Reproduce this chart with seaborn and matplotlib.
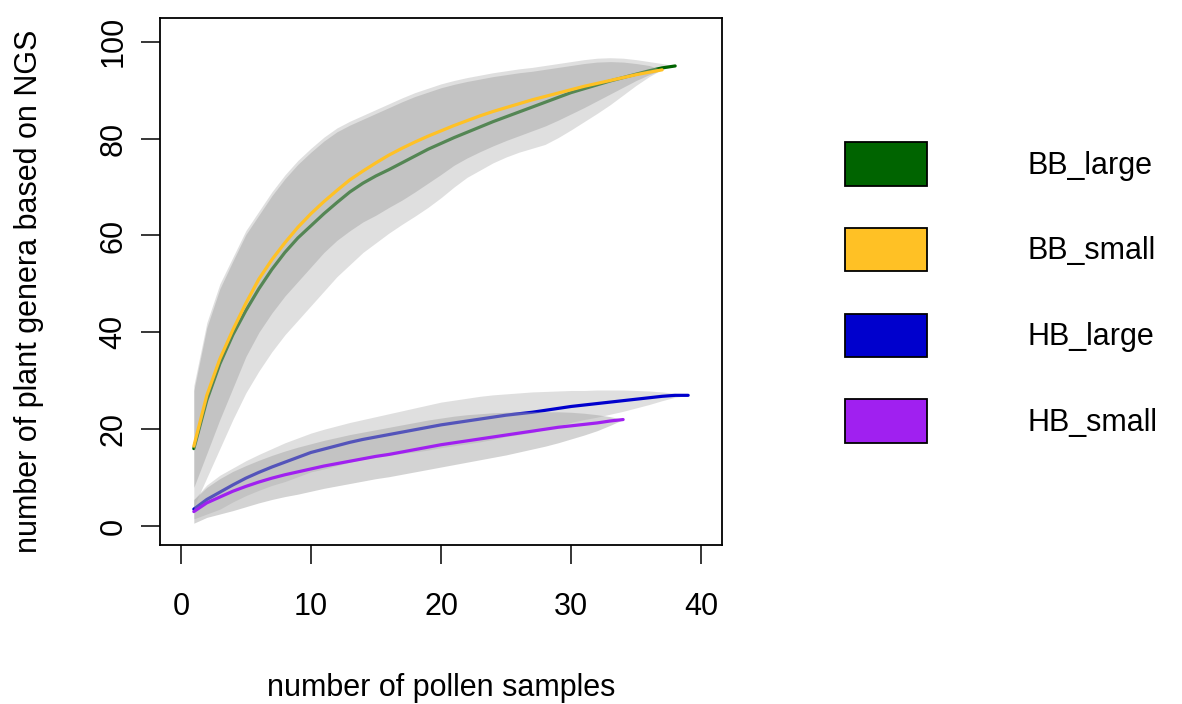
import numpy as np
import pandas as pd
import matplotlib
matplotlib.use("Agg")
import matplotlib.pyplot as plt
from matplotlib.patches import Patch
import seaborn as sns

# ---------------- data ----------------
series_names = ["BB_large", "BB_small", "HB_large", "HB_small"]
series_colors = ["#006400", "#FFC125", "#0000CD", "#A020F0"]

bb_large_x = list(range(1, 39))
bb_large_y = [16, 26, 33.5, 39.5, 44.5, 49, 53, 56.5, 59.5, 62, 64.5, 66.8, 69, 70.8, 72.3,
              73.6, 75, 76.4, 77.8, 79, 80.2, 81.3, 82.4, 83.5, 84.5, 85.5, 86.5, 87.5, 88.5,
              89.5, 90.3, 91.1, 91.9, 92.6, 93.3, 94, 94.6, 95]
bb_large_hi = [29, 42, 50, 55.5, 61, 65, 69, 72.5, 75.5, 78, 80.3, 82.2, 83.6, 84.8, 86, 87.2,
               88.4, 89.5, 90.4, 91.3, 92, 92.6, 93.1, 93.6, 94, 94.4, 94.7, 95.1, 95.5, 95.9,
               96.3, 96.6, 96.7, 96.6, 96.3, 95.9, 95.5, 95]
bb_large_lo = [4, 10, 16, 22, 27.5, 32, 36, 39.5, 42.5, 45.5, 48.5, 51.5, 54, 56.5, 58.5, 60.5,
               62.3, 64, 65.8, 67.8, 70, 72, 73.5, 75, 76.2, 77.2, 78, 78.8, 80.2, 81.8, 83.5,
               85.2, 87, 89, 91, 92.8, 94.3, 95]

bb_small_x = list(range(1, 38))
bb_small_y = [16.5, 27, 34.5, 40.5, 46, 51, 55, 58.5, 61.7, 64.5, 67, 69.3, 71.5, 73.3, 75, 76.6,
              78, 79.3, 80.5, 81.6, 82.7, 83.7, 84.7, 85.6, 86.4, 87.2, 88, 88.7, 89.4, 90.1,
              90.8, 91.4, 92, 92.6, 93.2, 93.7, 94.2]
bb_small_hi = [28, 41, 49, 54.7, 60.2, 64.2, 68.2, 71.7, 74.7, 77.2, 79.5, 81.4, 82.8, 84, 85.2,
               86.4, 87.6, 88.7, 89.6, 90.5, 91.2, 91.8, 92.3, 92.8, 93.2, 93.6, 93.9, 94.3,
               94.7, 95.1, 95.5, 95.8, 95.9, 95.8, 95.5, 95.1, 94.2]
bb_small_lo = [8, 15, 22, 28.5, 35, 40, 44, 47.5, 50.5, 53.5, 56.5, 59, 61, 62.8, 64.2, 65.8,
               67.3, 69, 70.8, 72.6, 74.5, 76, 77.3, 78.5, 79.6, 80.6, 81.6, 82.6, 83.8, 85.1,
               86.4, 87.8, 89.2, 90.6, 92, 93.2, 94.2]

hb_large_x = list(range(1, 40))
hb_large_y = [3.5, 5.5, 7, 8.5, 9.9, 11.1, 12.2, 13.2, 14.2, 15.2, 15.9, 16.6, 17.3, 17.9, 18.4,
              18.9, 19.4, 19.9, 20.4, 20.9, 21.3, 21.7, 22.1, 22.5, 22.9, 23.2, 23.5, 23.9,
              24.3, 24.7, 25, 25.3, 25.6, 25.9, 26.2, 26.5, 26.8, 27, 27]
hb_large_hi = [5.5, 8.5, 10.5, 12, 13.5, 14.8, 16, 17.2, 18.2, 19.2, 20, 20.7, 21.4, 22, 22.6,
               23.2, 23.8, 24.4, 25, 25.6, 26, 26.4, 26.8, 27.1, 27.3, 27.5, 27.7, 27.8, 27.9,
               28, 28, 28.1, 28.1, 28.1, 28, 27.9, 27.7, 27.4, 27]
hb_large_lo = [1.5, 2.5, 3.5, 5, 6.3, 7.4, 8.4, 9.2, 10.2, 11.2, 11.8, 12.5, 13.2, 13.8, 14.2,
               14.6, 15, 15.3, 15.7, 16.2, 16.6, 17, 17.4, 17.9, 18.5, 18.9, 19.3, 20, 20.7,
               21.4, 22, 22.5, 23.1, 23.7, 24.4, 25.1, 25.9, 26.6, 27]

hb_small_x = list(range(1, 35))
hb_small_y = [3, 4.8, 6, 7.2, 8.2, 9.1, 9.9, 10.6, 11.2, 11.8, 12.4, 12.9, 13.4, 13.9, 14.4,
              14.8, 15.3, 15.8, 16.3, 16.8, 17.2, 17.6, 18, 18.4, 18.8, 19.2, 19.6, 20, 20.4,
              20.7, 21, 21.3, 21.7, 22]
hb_small_hi = [5.5, 8, 9.8, 11.3, 12.5, 13.6, 14.6, 15.5, 16.3, 17, 17.7, 18.3, 18.9, 19.4,
               19.9, 20.4, 20.9, 21.4, 21.9, 22.3, 22.7, 23, 23.2, 23.4, 23.5, 23.6, 23.6, 23.6,
               23.6, 23.5, 23.3, 23, 22.6, 22]
hb_small_lo = [0.6, 1.8, 2.5, 3.2, 4, 4.8, 5.5, 6.1, 6.6, 7.2, 7.8, 8.3, 8.8, 9.3, 9.8, 10.2,
               10.7, 11.2, 11.7, 12.2, 12.7, 13.2, 13.7, 14.2, 14.7, 15.3, 15.9, 16.5, 17.2,
               18, 18.8, 19.7, 20.8, 22]

x_ticks = [0, 10, 20, 30, 40]
y_ticks = [0, 20, 40, 60, 80, 100]
x_label = "number of pollen samples"
y_label = "number of plant genera based on NGS"

# ---------------- style ----------------
sns.set_style("white")
plt.rcParams["font.family"] = ["Liberation Sans", "DejaVu Sans"]
plt.rcParams["text.color"] = "black"
FS = 22

fig = plt.figure(figsize=(11.82, 7.04), dpi=100)
ax = fig.add_axes([160 / 1182, 1 - 545 / 704, (722 - 160) / 1182, (545 - 18) / 704])

series = [
    (bb_large_x, bb_large_y, bb_large_lo, bb_large_hi),
    (bb_small_x, bb_small_y, bb_small_lo, bb_small_hi),
    (hb_large_x, hb_large_y, hb_large_lo, hb_large_hi),
    (hb_small_x, hb_small_y, hb_small_lo, hb_small_hi),
]
band_style = [("#C0C0C0", 0.5), ("#A8A8A8", 0.5), ("#C0C0C0", 0.5), ("#A8A8A8", 0.5)]

z = 1
for (xs, ys, lo, hi), name, col, (bc, ba) in zip(series, series_names, series_colors, band_style):
    ax.fill_between(xs, lo, hi, color=bc, alpha=ba, linewidth=0, zorder=z)
    z += 1
    df = pd.DataFrame({"x": xs, "y": ys})
    sns.lineplot(data=df, x="x", y="y", ax=ax, color=col, linewidth=2.3,
                 estimator=None, sort=False, zorder=z)
    z += 1

ax.set_xlim(-1.6, 41.6)
ax.set_ylim(-3.9, 104.9)
ax.set_xticks(x_ticks)
ax.set_yticks(y_ticks)
ax.set_xticklabels([str(v) for v in x_ticks])
ax.set_yticklabels([str(v) for v in y_ticks], rotation=90, va="center")

for s in ax.spines.values():
    s.set_visible(True)
    s.set_color("black")
    s.set_linewidth(1.3)

ax.tick_params(axis="both", which="major", direction="out", length=13.5, width=1.1,
               color="black", labelsize=FS, labelcolor="black", bottom=True, left=True)
ax.tick_params(axis="x", pad=20)
ax.tick_params(axis="y", pad=9)

ax.set_xlabel(x_label, fontsize=FS, color="black")
ax.set_ylabel(y_label, fontsize=FS, color="black")
ax.xaxis.set_label_coords(0.5, -0.242)
ax.yaxis.set_label_coords(-0.207, 0.482)

handles = [Patch(facecolor=c, edgecolor="black", linewidth=1.3) for c in series_colors]
fig.legend(handles, series_names, loc="upper left",
           bbox_to_anchor=(845 / 1182, 1 - 142 / 704), frameon=False, fontsize=FS,
           handlelength=83 / 31, handleheight=1.82, labelspacing=1.38,
           handletextpad=3.3, borderpad=0, borderaxespad=0, labelcolor="black")

fig.savefig("out.png", dpi=100, facecolor="white")
